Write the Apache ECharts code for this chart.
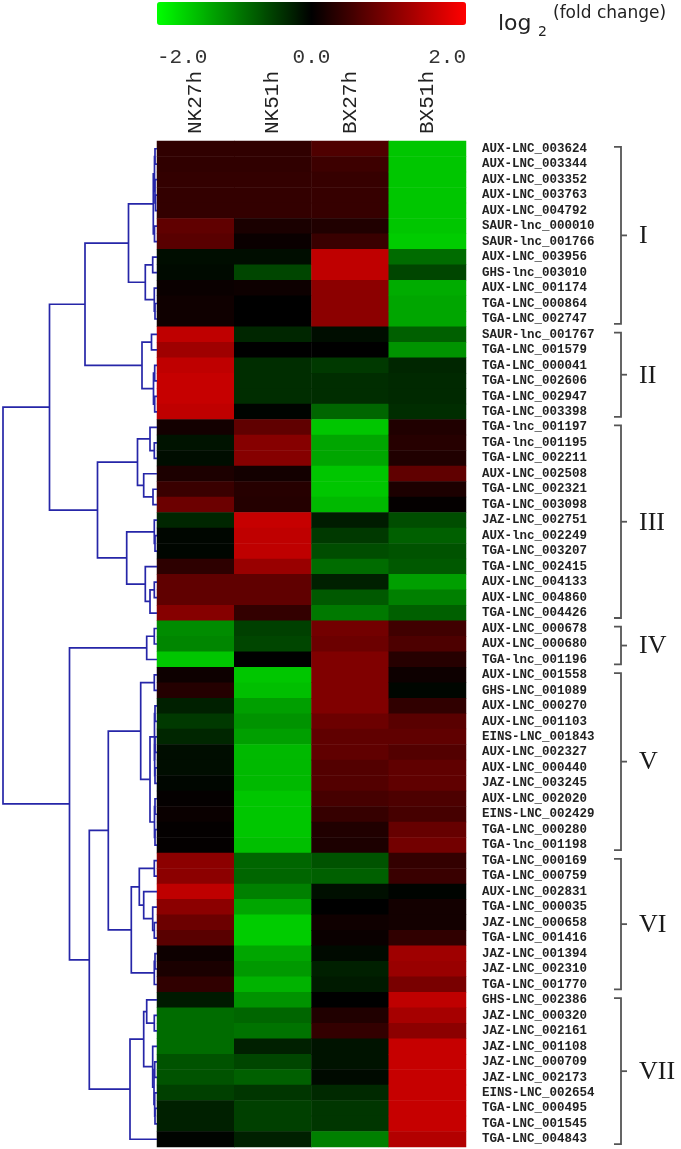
<!DOCTYPE html>
<html>
<head>
<meta charset="utf-8">
<style>
  html, body { margin: 0; padding: 0; background: #fff; }
  #chart { width: 681px; height: 1149px; }
</style>
<script src="https://cdn.jsdelivr.net/npm/echarts@6/dist/echarts.min.js"></script>
</head>
<body>
<div id="chart"></div>
<script>
const columns = ['NK27h', 'NK51h', 'BX27h', 'BX51h'];
const colorbarTicks = [-2, 0, 2];

const genes = [
  'AUX-LNC_003624', 'AUX-LNC_003344', 'AUX-LNC_003352', 'AUX-LNC_003763', 'AUX-LNC_004792',
  'SAUR-lnc_000010', 'SAUR-lnc_001766', 'AUX-LNC_003956', 'GHS-lnc_003010', 'AUX-LNC_001174',
  'TGA-LNC_000864', 'TGA-LNC_002747',
  'SAUR-lnc_001767', 'TGA-LNC_001579', 'TGA-LNC_000041', 'TGA-LNC_002606', 'TGA-LNC_002947', 'TGA-LNC_003398',
  'TGA-lnc_001197', 'TGA-lnc_001195', 'TGA-LNC_002211', 'AUX-LNC_002508', 'TGA-LNC_002321', 'TGA-LNC_003098',
  'JAZ-LNC_002751', 'AUX-lnc_002249', 'TGA-LNC_003207', 'TGA-LNC_002415', 'AUX-LNC_004133', 'AUX-LNC_004860',
  'TGA-LNC_004426',
  'AUX-LNC_000678', 'AUX-LNC_000680', 'TGA-lnc_001196',
  'AUX-LNC_001558', 'GHS-LNC_001089', 'AUX-LNC_000270', 'AUX-LNC_001103', 'EINS-LNC_001843', 'AUX-LNC_002327',
  'AUX-LNC_000440', 'JAZ-LNC_003245', 'AUX-LNC_002020', 'EINS-LNC_002429', 'TGA-LNC_000280', 'TGA-lnc_001198',
  'TGA-LNC_000169', 'TGA-LNC_000759', 'AUX-LNC_002831', 'TGA-LNC_000035', 'JAZ-LNC_000658', 'TGA-LNC_001416',
  'JAZ-LNC_001394', 'JAZ-LNC_002310', 'TGA-LNC_001770',
  'GHS-LNC_002386', 'JAZ-LNC_000320', 'JAZ-LNC_002161', 'JAZ-LNC_001108', 'JAZ-LNC_000709', 'JAZ-LNC_002173',
  'EINS-LNC_002654', 'TGA-LNC_000495', 'TGA-LNC_001545', 'TGA-LNC_004843'
];

const nk27h = [
  .38, .38, .4, .4, .4, .75, .7, -.1, -.08, .08, .12, .12,
  1.5, 1.25, 1.5, 1.55, 1.55, 1.5,
  .15, -.15, -.1, .22, .45, .85, -.3, -.05, -.05, .35, .75, .75, 1.05,
  -1.1, -1.05, -1.55,
  .1, .28, -.25, -.45, -.3, -.1, -.1, -.05, .03, .08, .03, .03,
  1.1, 1.1, 1.5, 1.1, .85, .7, .1, .2, .38,
  -.2, -.85, -.85, -.85, -.65, -.65, -.5, -.25, -.25, -.03
];
const nk51h = [
  .38, .38, .4, .4, .4, .2, .08, -.1, -.55, .1, 0, 0,
  -.3, 0, -.35, -.35, -.35, -.03,
  .75, 1.05, 1.05, .15, .3, .28, 1.55, 1.5, 1.5, 1.2, .75, .75, .4,
  -.5, -.55, 0,
  -1.55, -1.5, -1.25, -1.15, -1.25, -1.45, -1.45, -1.45, -1.55, -1.55, -1.55, -1.5,
  -.8, -.8, -1, -1.3, -1.6, -1.6, -1.3, -1.2, -1.4,
  -1.15, -.8, -.9, -.25, -.55, -.75, -.42, -.5, -.5, -.25
];
const bx27h = [
  .62, .48, .42, .42, .42, .25, .45, 1.5, 1.5, 1.1, 1.1, 1.1,
  -.1, 0, -.45, -.35, -.35, -.8,
  -1.55, -1.3, -1.3, -1.55, -1.55, -1.45, -.22, -.45, -.6, -.85, -.25, -.7, -.95,
  .9, .85, 1,
  1, 1, 1, .85, .75, .75, .65, .65, .55, .42, .25, .22,
  -.65, -.75, -.12, 0, .12, .08, -.08, -.25, -.2,
  0, .25, .4, -.15, -.15, -.08, -.32, -.42, -.42, -1
];
const bx51h = [
  -1.55, -1.55, -1.55, -1.55, -1.55, -1.55, -1.6, -.85, -.55, -1.35, -1.3, -1.3,
  -.75, -1.15, -.3, -.32, -.32, -.35,
  .25, .3, .25, .75, .22, .03, -.6, -.75, -.65, -.7, -1.25, -1, -.75,
  .5, .6, .3,
  .1, -.05, .38, .7, .75, .65, .75, .75, .6, .55, .8, .9,
  .4, .45, -.03, .15, .15, .38, 1.25, 1.2, .95,
  1.5, 1.3, 1.1, 1.55, 1.55, 1.55, 1.55, 1.55, 1.55, 1.4
];

// groups: name, first row, last row (1-based)
const groups = [
  ['I', 1, 12], ['II', 13, 18], ['III', 19, 31], ['IV', 32, 34],
  ['V', 35, 46], ['VI', 47, 55], ['VII', 56, 65]
];

// clustering: [distance, left, right], a plain number is a row (1-based)
const treeTop = [72,
  [28.5,
    [3.7, [2.5, [2, 1, 2], [2, 3, [1.5, 4, 5]]], [2.5, 6, 7]],
    [11.7, [4.3, 8, 9], [2.7, 10, [2, 11, 12]]]],
  [15, [5.5, 13, 14], [3.5, [2.3, 15, 16], [2.3, 17, 18]]]
];
const treeMid = [59.5,
  [19.5, [7, 19, [2.7, 20, 21]], [13.3, 22, [4, 23, 24]]],
  [30.3, [2.7, 25, [2, 26, 27]], [11.7, 28, [7, [2.7, 29, 30], 31]]]
];
const treeFour = [10.3, [2.7, 32, 33], 34];
const treeFive = [16.3, [2.7, 35, 36],
  [7, [2.5, [2, 37, 38], [2.3, [2, 39, 40], [2, 41, 42]]], [2.5, [2, 43, 44], [2, 45, 46]]]];
const treeSix = [25.7,
  [17.7, [2.7, 47, 48], [13.3, 49, [4.3, 50, [2.7, 51, 52]]]],
  [2.7, [2, 53, 54], 55]];
const treeSeven = [27,
  [13.3, [10.3, 56, [2.7, 57, 58]], [4.3, 59, [3, [2.3, 60, 61], [2.3, 62, [2, 63, 64]]]]],
  65];
const tree = [154,
  [107.5, treeTop, treeMid],
  [87.5, treeFour, [67.7, [48.7, treeFive, treeSix], treeSeven]]
];

const heatData = [];
[nk27h, nk51h, bx27h, bx51h].forEach((col, c) => {
  col.forEach((v, r) => heatData.push([c, r, v]));
});

const treeLinks = [];
const walk = (node) => {
  if (typeof node === 'number') return { y: node - 1, h: 0 };
  const a = walk(node[1]);
  const b = walk(node[2]);
  treeLinks.push([node[0], a.y, b.y, a.h, b.h]);
  return { y: (a.y + b.y) / 2, h: node[0] };
};
walk(tree);

const chart = echarts.init(document.getElementById('chart'));
const mono = '"Liberation Mono", monospace';

chart.setOption({
  animation: false,
  backgroundColor: '#fff',
  grid: [
    { left: 157, top: 141, width: 309, height: 1006 },
    { left: 0, top: 141, width: 157, height: 1006 },
    { left: 157, top: 47, width: 309, height: 1 }
  ],
  xAxis: [
    {
      type: 'category', gridIndex: 0, position: 'top', data: columns,
      axisLine: { show: false }, axisTick: { show: false }, splitLine: { show: false },
      axisLabel: { rotate: -90, margin: 7, fontFamily: mono, fontSize: 21, color: '#222' }
    },
    { type: 'value', gridIndex: 1, min: 0, max: 157, inverse: true, show: false },
    {
      type: 'value', gridIndex: 2, min: colorbarTicks[0], max: colorbarTicks[2], interval: 2,
      axisLine: { show: false }, axisTick: { show: false }, splitLine: { show: false },
      axisLabel: {
        margin: -1, fontFamily: mono, fontSize: 21, color: '#333',
        alignMinLabel: 'left', alignMaxLabel: 'right',
        formatter: (v) => v.toFixed(1)
      }
    }
  ],
  yAxis: [
    {
      type: 'category', gridIndex: 0, position: 'right', inverse: true, data: genes,
      axisLine: { show: false }, axisTick: { show: false }, splitLine: { show: false },
      axisLabel: { interval: 0, margin: 16, fontFamily: mono, fontWeight: 'bold', fontSize: 12.5, color: '#222' }
    },
    { type: 'value', gridIndex: 1, min: -0.5, max: 64.5, inverse: true, show: false },
    { type: 'value', gridIndex: 2, show: false }
  ],
  visualMap: {
    type: 'continuous', seriesIndex: 0, min: -2, max: 2, orient: 'horizontal',
    left: 157, top: 2, itemWidth: 23, itemHeight: 309, padding: 0,
    calculable: false, hoverLink: false, text: null,
    inRange: { color: ['#00ff00', '#000000', '#ff0000'] }
  },
  graphic: [
    { type: 'text', left: 498, top: 13, style: { text: 'log', fontFamily: '"DejaVu Sans"', fontSize: 22, fill: '#222' } },
    { type: 'text', left: 538, top: 25, style: { text: '2', fontFamily: '"DejaVu Sans"', fontSize: 14, fill: '#222' } },
    { type: 'text', left: 553, top: 5, style: { text: '(fold change)', fontFamily: '"DejaVu Sans"', fontSize: 17, fill: '#222' } }
  ],
  series: [
    {
      type: 'heatmap', xAxisIndex: 0, yAxisIndex: 0, data: heatData,
      itemStyle: { borderWidth: 0 }, emphasis: { disabled: true }
    },
    {
      type: 'custom', xAxisIndex: 1, yAxisIndex: 1, data: treeLinks,
      encode: { x: 0, y: [1, 2] }, silent: true,
      renderItem: (params, api) => {
        const h = api.value(0), ya = api.value(1), yb = api.value(2);
        const pts = [[api.value(3), ya], [h, ya], [h, yb], [api.value(4), yb]].map((p) => api.coord(p));
        return { type: 'polyline', shape: { points: pts }, style: { stroke: '#2626a8', lineWidth: 1.7, fill: null } };
      }
    },
    {
      type: 'custom', xAxisIndex: 1, yAxisIndex: 1, silent: true,
      data: groups.map((g) => [0, g[1] - 1, g[2] - 1, g[0]]),
      encode: { x: 0, y: [1, 2] },
      renderItem: (params, api) => {
        const top = api.coord([0, api.value(1) - 0.12])[1];
        const bottom = api.coord([0, api.value(2) + 0.32])[1];
        const mid = (top + bottom) / 2;
        return {
          type: 'group',
          children: [
            {
              type: 'polyline',
              shape: { points: [[614, top], [621, top], [621, bottom], [614, bottom]] },
              style: { stroke: '#555', lineWidth: 1.8, fill: null }
            },
            {
              type: 'line',
              shape: { x1: 621, y1: mid, x2: 627, y2: mid },
              style: { stroke: '#555', lineWidth: 1.8 }
            },
            {
              type: 'text',
              style: {
                text: api.value(3), x: 639, y: mid + 1, verticalAlign: 'middle',
                fontFamily: '"Liberation Serif", serif', fontSize: 26, fill: '#1a1a1a'
              }
            }
          ]
        };
      }
    }
  ]
});
</script>
</body>
</html>
